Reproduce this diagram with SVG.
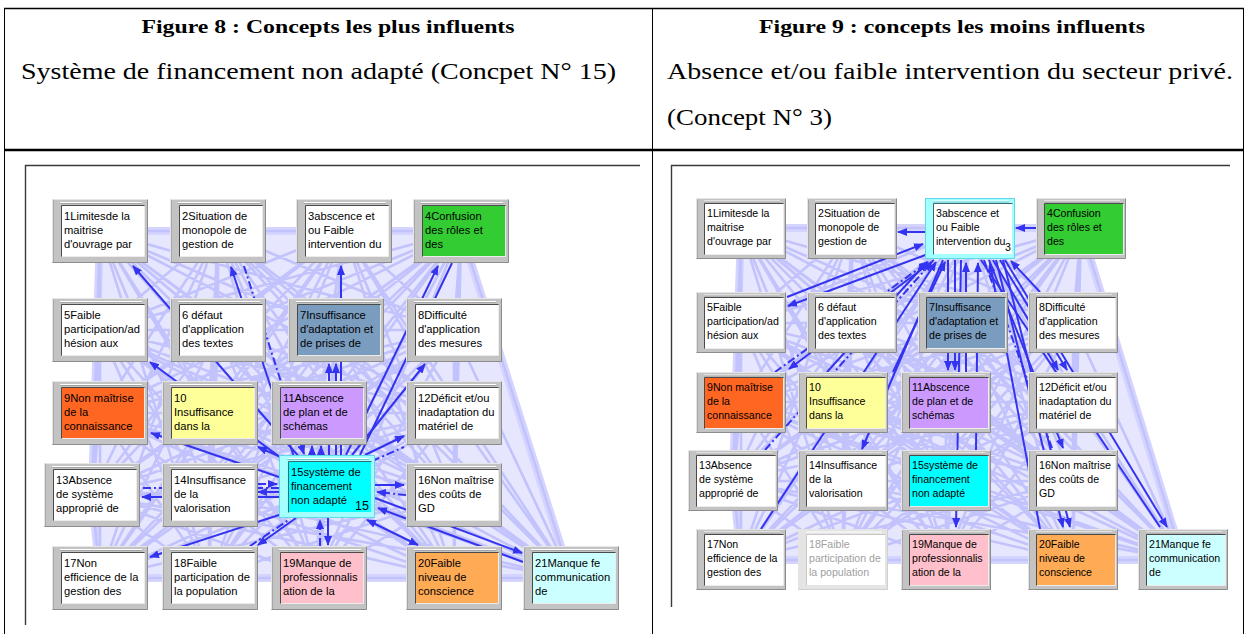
<svg xmlns="http://www.w3.org/2000/svg" xmlns:xlink="http://www.w3.org/1999/xlink" width="1248" height="634" viewBox="0 0 1248 634">
<style>
  .hd { font-family: "Liberation Serif", "Times New Roman", serif; font-weight: bold; font-size: 19.5px; fill: #000; }
  .bd { font-family: "Liberation Serif", "Times New Roman", serif; font-size: 23px; fill: #000; }
  .tl { font-family: "Liberation Sans", Arial, sans-serif; font-size: 11.2px; fill: #000; }
  .tr { font-family: "Liberation Sans", Arial, sans-serif; font-size: 10.6px; fill: #000; }
  .grid { stroke: #000; fill: none; }
  .fr { stroke: #3a3a3a; stroke-width: 1.4; fill: none; }
  .hull { fill: #e6e6ff; stroke: #d4d4ff; stroke-width: 8; stroke-linejoin: round; }
  .web { fill: none; stroke: #c2c2fc; stroke-width: 2.6; stroke-linejoin: round; }
  .a { fill: none; stroke: #3434f0; stroke-width: 2; marker-end: url(#ah); }
  .n { marker-end: none; }
  .dd { stroke-dasharray: 8 3 2 3; }
  .both { marker-start: url(#ah); }
</style>
<defs>
  <marker id="ah" viewBox="0 0 10 8" refX="9" refY="4" markerWidth="10" markerHeight="8" markerUnits="userSpaceOnUse" orient="auto-start-reverse">
    <path d="M0 0L10 4L0 8z" fill="#3434f0"/>
  </marker>
  <!-- bevelled grey frame, large boxes -->
  <g id="frL">
    <rect width="96" height="64" fill="#c3c3c3"/>
    <path d="M0.5 64V0.5H96" fill="none" stroke="#e6e6e6"/>
    <path d="M0.5 63.5H95.5V0.5" fill="none" stroke="#8c8c8c"/>
    <path d="M1.5 63V1.5" fill="none" stroke="#a6a6a6"/>
    <path d="M8 3.5H90" stroke="#ffffff"/>
    <path d="M8 4.5H90" stroke="#a4a4a4"/>
  </g>
  <g id="bdL">
    <path d="M9.5 57.5V6.5H92.5" fill="none" stroke="#4a4a4a"/>
    <path d="M10 57.5H92.5V7" fill="none" stroke="#ececec"/>
  </g>
  <!-- bevelled grey frame, small boxes -->
  <g id="frR">
    <rect width="90" height="61" fill="#c3c3c3"/>
    <path d="M0.5 61V0.5H90" fill="none" stroke="#e6e6e6"/>
    <path d="M0.5 60.5H89.5V0.5" fill="none" stroke="#8c8c8c"/>
    <path d="M1.5 60V1.5" fill="none" stroke="#a6a6a6"/>
    <path d="M8 3H84" stroke="#ffffff"/>
    <path d="M8 4H84" stroke="#a4a4a4"/>
  </g>
  <g id="bdR">
    <path d="M8.5 56.5V5.5H87.5" fill="none" stroke="#4a4a4a"/>
    <path d="M9 56.5H87.5V6" fill="none" stroke="#ececec"/>
  </g>
</defs>

<rect width="1248" height="634" fill="#fff"/>

<!-- table -->
<g id="table">
  <path class="grid" d="M4 8.5H1244" stroke-width="1.5"/>
  <path class="grid" d="M4 150H1244" stroke-width="2.5"/>
  <path class="grid" d="M4.5 8V634M652.5 8V634M1243.5 8V634" stroke-width="1"/>
  <text class="hd" x="328" y="33" text-anchor="middle" textLength="373" lengthAdjust="spacingAndGlyphs">Figure 8 : Concepts les plus influents</text>
  <text class="bd" x="21" y="79" textLength="595" lengthAdjust="spacingAndGlyphs">Système de financement non adapté (Concpet N° 15)</text>
  <text class="hd" x="952" y="33" text-anchor="middle" textLength="386" lengthAdjust="spacingAndGlyphs">Figure 9 : concepts les moins influents</text>
  <text class="bd" x="667" y="79" textLength="566" lengthAdjust="spacingAndGlyphs">Absence et/ou faible intervention du secteur privé.</text>
  <text class="bd" x="667" y="125" textLength="165" lengthAdjust="spacingAndGlyphs">(Concept N° 3)</text>
</g>

<!-- ===== Figure 8 ===== -->
<g id="fig8">
  <path class="fr" d="M25.5 625V165.5H640"/>
  <g id="fig8-connectors">
    <path class="hull" d="M100 231L461 231L571 578L100 578L92 495z"/>
    <path class="web" d="M571 578L100 231L218 231L454 578L344 231L318 578L461 231L209 578L100 330L100 578L218 330L454 495L335 330L327 487L454 330L209 495L100 413L92 495L209 413L454 413L318 413L571 578L218 231L344 231L100 231L461 231L454 578L100 330L318 578L218 330L209 578L335 330L100 578L454 330L454 495L100 413L327 487L209 413L209 495L318 413L92 495L454 413L571 578L344 231L461 231L218 231L100 330L100 231L218 330L454 578L335 330L318 578L454 330L209 578L100 413L100 578L209 413L454 495L318 413L327 487L454 413L209 495L92 495L571 578L461 231L100 330L344 231L218 330L218 231L335 330L100 231L454 330L454 578L100 413L318 578L209 413L209 578L318 413L100 578L454 413L454 495L92 495L327 487L209 495L571 578L100 330L218 330L461 231L335 330L344 231L454 330L218 231L100 413L100 231L209 413L454 578L318 413L318 578L454 413L209 578L92 495L100 578L209 495L454 495L327 487L571 578L218 330L335 330L100 330L454 330L461 231L100 413L344 231L209 413L218 231L318 413L100 231L454 413L454 578L92 495L318 578L209 495L209 578L327 487L100 578L454 495L571 578L335 330L454 330L218 330L100 413L100 330L209 413L461 231L318 413L344 231L454 413L218 231L92 495L100 231L209 495L454 578L327 487L318 578L454 495L209 578L100 578L571 578L454 330L100 413L335 330L209 413L218 330L318 413L100 330L454 413L461 231L92 495L344 231L209 495L218 231L327 487L100 231L454 495L454 578L100 578L318 578L209 578L571 578L100 413L209 413L454 330L318 413L335 330L454 413L218 330L92 495L100 330L209 495L461 231L327 487L344 231L454 495L218 231L100 578L100 231L209 578L454 578L318 578L571 578L209 413L318 413L100 413L454 413L454 330L92 495L335 330L209 495L218 330L327 487L100 330L454 495L461 231L100 578L344 231L209 578L218 231L318 578L100 231L454 578L571 578"/>
    <!-- links leaving / entering concept 15 -->
    <path class="a" d="M300 458L133 266"/>
    <path class="a" d="M294 457L231 267"/>
    <path class="a dd" d="M244 266L304 454"/>
    <path class="a" d="M341 455L341 266"/>
    <path class="a" d="M329 455L329 364"/>
    <path class="a" d="M336 455L336 364"/>
    <path class="a" d="M346 455L438 266"/>
    <path class="a n" d="M452 263L360 455"/>
    <path class="a" d="M352 455L425 364"/>
    <path class="a" d="M312 456L312 446"/>
    <path class="a" d="M321 456L321 446"/>
    <path class="a" d="M284 460L150 362"/>
    <path class="a" d="M279 477L151 433"/>
    <path class="a" d="M283 458L258 447"/>
    <path class="a" d="M365 455L404 436"/>
    <path class="a n dd" d="M372 461L404 447"/>
    <path class="a" d="M279 492L258 492"/>
    <path class="a dd" d="M258 484L277 484"/>
    <path class="a" d="M279 497L142 497"/>
    <path class="a n dd" d="M279 488L142 488"/>
    <path class="a" d="M375 485L404 485"/>
    <path class="a dd" d="M406 495L377 492"/>
    <path class="a" d="M279 515L150 557"/>
    <path class="a" d="M296 518L258 545"/>
    <path class="a n dd" d="M250 546L290 519"/>
    <path class="a" d="M328 518L328 545"/>
    <path class="a dd" d="M320 546L320 520"/>
    <path class="a both" d="M367 520L418 545"/>
    <path class="a" d="M375 498L522 553"/>
    <path class="a" d="M523 562L378 508"/>
  </g>

  <g id="fig8-n1" transform="translate(52,199)"><use href="#frL"/><rect x="10" y="7" width="82" height="50" fill="#fff"/><use href="#bdL"/>
    <text class="tl"><tspan x="12" y="20.5">1Limitesde la</tspan><tspan x="12" y="34.8">maitrise</tspan><tspan x="12" y="49.1">d'ouvrage par</tspan></text></g>
  <g id="fig8-n2" transform="translate(170,199)"><use href="#frL"/><rect x="10" y="7" width="82" height="50" fill="#fff"/><use href="#bdL"/>
    <text class="tl"><tspan x="12" y="20.5">2Situation de</tspan><tspan x="12" y="34.8">monopole de</tspan><tspan x="12" y="49.1">gestion de</tspan></text></g>
  <g id="fig8-n3" transform="translate(296,199)"><use href="#frL"/><rect x="10" y="7" width="82" height="50" fill="#fff"/><use href="#bdL"/>
    <text class="tl"><tspan x="12" y="20.5">3abscence et</tspan><tspan x="12" y="34.8">ou Faible</tspan><tspan x="12" y="49.1">intervention du</tspan></text></g>
  <g id="fig8-n4" transform="translate(413,199)"><use href="#frL"/><rect x="10" y="7" width="82" height="50" fill="#33cc33"/><use href="#bdL"/>
    <text class="tl"><tspan x="12" y="20.5">4Confusion</tspan><tspan x="12" y="34.8">des rôles et</tspan><tspan x="12" y="49.1">des</tspan></text></g>

  <g id="fig8-n5" transform="translate(52,298)"><use href="#frL"/><rect x="10" y="7" width="82" height="50" fill="#fff"/><use href="#bdL"/>
    <text class="tl"><tspan x="12" y="20.5">5Faible</tspan><tspan x="12" y="34.8">participation/ad</tspan><tspan x="12" y="49.1">hésion aux</tspan></text></g>
  <g id="fig8-n6" transform="translate(170,298)"><use href="#frL"/><rect x="10" y="7" width="82" height="50" fill="#fff"/><use href="#bdL"/>
    <text class="tl"><tspan x="12" y="20.5">6 défaut</tspan><tspan x="12" y="34.8">d'application</tspan><tspan x="12" y="49.1">des textes</tspan></text></g>
  <g id="fig8-n7" transform="translate(288,298)"><use href="#frL"/><rect x="10" y="7" width="82" height="50" fill="#7a9cbf"/><use href="#bdL"/>
    <text class="tl"><tspan x="12" y="20.5">7Insuffisance</tspan><tspan x="12" y="34.8">d'adaptation et</tspan><tspan x="12" y="49.1">de prises de</tspan></text></g>
  <g id="fig8-n8" transform="translate(406,298)"><use href="#frL"/><rect x="10" y="7" width="82" height="50" fill="#fff"/><use href="#bdL"/>
    <text class="tl"><tspan x="12" y="20.5">8Difficulté</tspan><tspan x="12" y="34.8">d'application</tspan><tspan x="12" y="49.1">des mesures</tspan></text></g>

  <g id="fig8-n9" transform="translate(52,381)"><use href="#frL"/><rect x="10" y="7" width="82" height="50" fill="#ff6622"/><use href="#bdL"/>
    <text class="tl"><tspan x="12" y="20.5">9Non maîtrise</tspan><tspan x="12" y="34.8">de la</tspan><tspan x="12" y="49.1">connaissance</tspan></text></g>
  <g id="fig8-n10" transform="translate(162,381)"><use href="#frL"/><rect x="10" y="7" width="82" height="50" fill="#ffff99"/><use href="#bdL"/>
    <text class="tl"><tspan x="12" y="20.5">10</tspan><tspan x="12" y="34.8">Insuffisance</tspan><tspan x="12" y="49.1">dans la</tspan></text></g>
  <g id="fig8-n11" transform="translate(271,381)"><use href="#frL"/><rect x="10" y="7" width="82" height="50" fill="#cc99ff"/><use href="#bdL"/>
    <text class="tl"><tspan x="12" y="20.5">11Abscence</tspan><tspan x="12" y="34.8">de plan et de</tspan><tspan x="12" y="49.1">schémas</tspan></text></g>
  <g id="fig8-n12" transform="translate(406,381)"><use href="#frL"/><rect x="10" y="7" width="82" height="50" fill="#fff"/><use href="#bdL"/>
    <text class="tl"><tspan x="12" y="20.5">12Déficit et/ou</tspan><tspan x="12" y="34.8">inadaptation du</tspan><tspan x="12" y="49.1">matériel de</tspan></text></g>

  <g id="fig8-n13" transform="translate(44,463)"><use href="#frL"/><rect x="10" y="7" width="82" height="50" fill="#fff"/><use href="#bdL"/>
    <text class="tl"><tspan x="12" y="20.5">13Absence</tspan><tspan x="12" y="34.8">de système</tspan><tspan x="12" y="49.1">approprié de</tspan></text></g>
  <g id="fig8-n14" transform="translate(162,463)"><use href="#frL"/><rect x="10" y="7" width="82" height="50" fill="#fff"/><use href="#bdL"/>
    <text class="tl"><tspan x="12" y="20.5">14Insuffisance</tspan><tspan x="12" y="34.8">de la</tspan><tspan x="12" y="49.1">valorisation</tspan></text></g>
  <g id="fig8-n15" transform="translate(279,455)">
    <rect x="0.5" y="0.5" width="95" height="62" fill="#a4ffff" stroke="#5fd8e8"/>
    <path d="M8 3.5H90" stroke="#ffffff"/><path d="M8 4.5H90" stroke="#70c8d0"/>
    <rect x="10" y="7" width="82" height="50" fill="#00ffff"/>
    <path d="M9.5 57.5V6.5H92.5" fill="none" stroke="#3a6a70"/>
    <text class="tl"><tspan x="12" y="20.7">15système de</tspan><tspan x="12" y="35">financement</tspan><tspan x="12" y="49.3">non adapté</tspan></text>
    <text class="tl" x="90" y="55" text-anchor="end" style="font-size:12.5px">15</text></g>
  <g id="fig8-n16" transform="translate(406,463)"><use href="#frL"/><rect x="10" y="7" width="82" height="50" fill="#fff"/><use href="#bdL"/>
    <text class="tl"><tspan x="12" y="20.5">16Non maîtrise</tspan><tspan x="12" y="34.8">des coûts de</tspan><tspan x="12" y="49.1">GD</tspan></text></g>

  <g id="fig8-n17" transform="translate(52,546)"><use href="#frL"/><rect x="10" y="7" width="82" height="50" fill="#fff"/><use href="#bdL"/>
    <text class="tl"><tspan x="12" y="20.5">17Non</tspan><tspan x="12" y="34.8">efficience de la</tspan><tspan x="12" y="49.1">gestion des</tspan></text></g>
  <g id="fig8-n18" transform="translate(162,546)"><use href="#frL"/><rect x="10" y="7" width="82" height="50" fill="#fff"/><use href="#bdL"/>
    <text class="tl"><tspan x="12" y="20.5">18Faible</tspan><tspan x="12" y="34.8">participation de</tspan><tspan x="12" y="49.1">la population</tspan></text></g>
  <g id="fig8-n19" transform="translate(271,546)"><use href="#frL"/><rect x="10" y="7" width="82" height="50" fill="#ffc0cb"/><use href="#bdL"/>
    <text class="tl"><tspan x="12" y="20.5">19Manque de</tspan><tspan x="12" y="34.8">professionnalis</tspan><tspan x="12" y="49.1">ation de la</tspan></text></g>
  <g id="fig8-n20" transform="translate(406,546)"><use href="#frL"/><rect x="10" y="7" width="82" height="50" fill="#ffaa55"/><use href="#bdL"/>
    <text class="tl"><tspan x="12" y="20.5">20Faible</tspan><tspan x="12" y="34.8">niveau de</tspan><tspan x="12" y="49.1">conscience</tspan></text></g>
  <g id="fig8-n21" transform="translate(523,546)"><use href="#frL"/><rect x="10" y="7" width="82" height="50" fill="#ccffff"/><use href="#bdL"/>
    <text class="tl"><tspan x="12" y="20.5">21Manque fe</tspan><tspan x="12" y="34.8">communication</tspan><tspan x="12" y="49.1">de</tspan></text></g>
</g>

<!-- ===== Figure 9 ===== -->
<g id="fig9">
  <path class="fr" d="M671.5 607V165.5H1230"/>
  <g id="fig9-connectors">
    <path class="hull" d="M741 228L1081 228L1183 560L741 560L733 481z"/>
    <path class="web" d="M1183 560L741 228L852 228L1073 560L970 228L946 560L1081 228L843 560L741 323L741 560L852 323L1073 481L962 323L946 481L1073 323L843 481L741 402L733 481L843 402L1073 402L946 402L1183 560L852 228L970 228L741 228L1081 228L1073 560L741 323L946 560L852 323L843 560L962 323L741 560L1073 323L1073 481L741 402L946 481L843 402L843 481L946 402L733 481L1073 402L1183 560L970 228L1081 228L852 228L741 323L741 228L852 323L1073 560L962 323L946 560L1073 323L843 560L741 402L741 560L843 402L1073 481L946 402L946 481L1073 402L843 481L733 481L1183 560L1081 228L741 323L970 228L852 323L852 228L962 323L741 228L1073 323L1073 560L741 402L946 560L843 402L843 560L946 402L741 560L1073 402L1073 481L733 481L946 481L843 481L1183 560L741 323L852 323L1081 228L962 323L970 228L1073 323L852 228L741 402L741 228L843 402L1073 560L946 402L946 560L1073 402L843 560L733 481L741 560L843 481L1073 481L946 481L1183 560L852 323L962 323L741 323L1073 323L1081 228L741 402L970 228L843 402L852 228L946 402L741 228L1073 402L1073 560L733 481L946 560L843 481L843 560L946 481L741 560L1073 481L1183 560L962 323L1073 323L852 323L741 402L741 323L843 402L1081 228L946 402L970 228L1073 402L852 228L733 481L741 228L843 481L1073 560L946 481L946 560L1073 481L843 560L741 560L1183 560L1073 323L741 402L962 323L843 402L852 323L946 402L741 323L1073 402L1081 228L733 481L970 228L843 481L852 228L946 481L741 228L1073 481L1073 560L741 560L946 560L843 560L1183 560L741 402L843 402L1073 323L946 402L962 323L1073 402L852 323L733 481L741 323L843 481L1081 228L946 481L970 228L1073 481L852 228L741 560L741 228L843 560L1073 560L946 560L1183 560L843 402L946 402L741 402L1073 402L1073 323L733 481L962 323L843 481L852 323L946 481L741 323L1073 481L1081 228L741 560L970 228L843 560L852 228L946 560L741 228L1073 560L1183 560"/>
    <!-- links leaving / entering concept 3 -->
    <path class="a" d="M925 232L898 232"/>
    <path class="a" d="M1036 228L1016 228"/>
    <path class="a" d="M928 254L788 306"/>
    <path class="a" d="M787 297L923 244"/>
    <path class="a" d="M934 260L789 369"/>
    <path class="a dd" d="M775 372L928 262"/>
    <path class="a" d="M943 260L862 449"/>
    <path class="a" d="M827 372L927 262"/>
    <path class="a" d="M893 372L945 262"/>
    <path class="a" d="M761 529L936 262"/>
    <path class="a dd" d="M765 450L932 262"/>
    <path class="a" d="M948 260L948 370"/>
    <path class="a" d="M955 260L955 370"/>
    <path class="a" d="M961 260L956 527"/>
    <path class="a" d="M966 372L966 263"/>
    <path class="a" d="M976 450L978 263"/>
    <path class="a" d="M993 260L1058 370"/>
    <path class="a" d="M1000 260L1067 370"/>
    <path class="a" d="M989 260L1063 448"/>
    <path class="a n dd" d="M984 260L1052 448"/>
    <path class="a" d="M996 260L1063 527"/>
    <path class="a" d="M1003 260L1070 527"/>
    <path class="a" d="M1005 260L1167 527"/>
    <path class="a n" d="M981 260L1160 527"/>
    <path class="a" d="M1040 292L1011 261"/>
    <path class="a" d="M1040 529L990 263"/>
  </g>

  <g id="fig9-n1" transform="translate(696,198)"><use href="#frR"/><rect x="9" y="6" width="78" height="50" fill="#fff"/><use href="#bdR"/>
    <text class="tr"><tspan x="11" y="19.3">1Limitesde la</tspan><tspan x="11" y="33.1">maitrise</tspan><tspan x="11" y="46.9">d'ouvrage par</tspan></text></g>
  <g id="fig9-n2" transform="translate(807,198)"><use href="#frR"/><rect x="9" y="6" width="78" height="50" fill="#fff"/><use href="#bdR"/>
    <text class="tr"><tspan x="11" y="19.3">2Situation de</tspan><tspan x="11" y="33.1">monopole de</tspan><tspan x="11" y="46.9">gestion de</tspan></text></g>
  <g id="fig9-n3" transform="translate(925,198)">
    <rect x="0.5" y="0.5" width="89" height="60" fill="#a4ffff" stroke="#5fd8e8"/>
    <path d="M8 3H84" stroke="#ffffff"/><path d="M8 4H84" stroke="#70c8d0"/>
    <rect x="9" y="6" width="78" height="50" fill="#fff"/>
    <path d="M8.5 56.5V5.5H87.5" fill="none" stroke="#3a6a70"/>
    <text class="tr"><tspan x="11" y="19.3">3abscence et</tspan><tspan x="11" y="33.1">ou Faible</tspan><tspan x="11" y="46.9">intervention du</tspan></text>
    <text class="tr" x="86" y="53" text-anchor="end">3</text></g>
  <g id="fig9-n4" transform="translate(1036,198)"><use href="#frR"/><rect x="9" y="6" width="78" height="50" fill="#33cc33"/><use href="#bdR"/>
    <text class="tr"><tspan x="11" y="19.3">4Confusion</tspan><tspan x="11" y="33.1">des rôles et</tspan><tspan x="11" y="46.9">des</tspan></text></g>

  <g id="fig9-n5" transform="translate(696,292)"><use href="#frR"/><rect x="9" y="6" width="78" height="50" fill="#fff"/><use href="#bdR"/>
    <text class="tr"><tspan x="11" y="19.3">5Faible</tspan><tspan x="11" y="33.1">participation/ad</tspan><tspan x="11" y="46.9">hésion aux</tspan></text></g>
  <g id="fig9-n6" transform="translate(807,292)"><use href="#frR"/><rect x="9" y="6" width="78" height="50" fill="#fff"/><use href="#bdR"/>
    <text class="tr"><tspan x="11" y="19.3">6 défaut</tspan><tspan x="11" y="33.1">d'application</tspan><tspan x="11" y="46.9">des textes</tspan></text></g>
  <g id="fig9-n7" transform="translate(918,292)"><use href="#frR"/><rect x="9" y="6" width="78" height="50" fill="#7a9cbf"/><use href="#bdR"/>
    <text class="tr"><tspan x="11" y="19.3">7Insuffisance</tspan><tspan x="11" y="33.1">d'adaptation et</tspan><tspan x="11" y="46.9">de prises de</tspan></text></g>
  <g id="fig9-n8" transform="translate(1028,292)"><use href="#frR"/><rect x="9" y="6" width="78" height="50" fill="#fff"/><use href="#bdR"/>
    <text class="tr"><tspan x="11" y="19.3">8Difficulté</tspan><tspan x="11" y="33.1">d'application</tspan><tspan x="11" y="46.9">des mesures</tspan></text></g>

  <g id="fig9-n9" transform="translate(696,372)"><use href="#frR"/><rect x="9" y="6" width="78" height="50" fill="#ff6622"/><use href="#bdR"/>
    <text class="tr"><tspan x="11" y="19.3">9Non maîtrise</tspan><tspan x="11" y="33.1">de la</tspan><tspan x="11" y="46.9">connaissance</tspan></text></g>
  <g id="fig9-n10" transform="translate(798,372)"><use href="#frR"/><rect x="9" y="6" width="78" height="50" fill="#ffff99"/><use href="#bdR"/>
    <text class="tr"><tspan x="11" y="19.3">10</tspan><tspan x="11" y="33.1">Insuffisance</tspan><tspan x="11" y="46.9">dans la</tspan></text></g>
  <g id="fig9-n11" transform="translate(901,372)"><use href="#frR"/><rect x="9" y="6" width="78" height="50" fill="#cc99ff"/><use href="#bdR"/>
    <text class="tr"><tspan x="11" y="19.3">11Abscence</tspan><tspan x="11" y="33.1">de plan et de</tspan><tspan x="11" y="46.9">schémas</tspan></text></g>
  <g id="fig9-n12" transform="translate(1028,372)"><use href="#frR"/><rect x="9" y="6" width="78" height="50" fill="#fff"/><use href="#bdR"/>
    <text class="tr"><tspan x="11" y="19.3">12Déficit et/ou</tspan><tspan x="11" y="33.1">inadaptation du</tspan><tspan x="11" y="46.9">matériel de</tspan></text></g>

  <g id="fig9-n13" transform="translate(688,450)"><use href="#frR"/><rect x="9" y="6" width="78" height="50" fill="#fff"/><use href="#bdR"/>
    <text class="tr"><tspan x="11" y="19.3">13Absence</tspan><tspan x="11" y="33.1">de système</tspan><tspan x="11" y="46.9">approprié de</tspan></text></g>
  <g id="fig9-n14" transform="translate(798,450)"><use href="#frR"/><rect x="9" y="6" width="78" height="50" fill="#fff"/><use href="#bdR"/>
    <text class="tr"><tspan x="11" y="19.3">14Insuffisance</tspan><tspan x="11" y="33.1">de la</tspan><tspan x="11" y="46.9">valorisation</tspan></text></g>
  <g id="fig9-n15" transform="translate(901,450)"><use href="#frR"/><rect x="9" y="6" width="78" height="50" fill="#00ffff"/><use href="#bdR"/>
    <text class="tr"><tspan x="11" y="19.3">15système de</tspan><tspan x="11" y="33.1">financement</tspan><tspan x="11" y="46.9">non adapté</tspan></text></g>
  <g id="fig9-n16" transform="translate(1028,450)"><use href="#frR"/><rect x="9" y="6" width="78" height="50" fill="#fff"/><use href="#bdR"/>
    <text class="tr"><tspan x="11" y="19.3">16Non maîtrise</tspan><tspan x="11" y="33.1">des coûts de</tspan><tspan x="11" y="46.9">GD</tspan></text></g>

  <g id="fig9-n17" transform="translate(696,529)"><use href="#frR"/><rect x="9" y="6" width="78" height="50" fill="#fff"/><use href="#bdR"/>
    <text class="tr"><tspan x="11" y="19.3">17Non</tspan><tspan x="11" y="33.1">efficience de la</tspan><tspan x="11" y="46.9">gestion des</tspan></text></g>
  <g id="fig9-n18" transform="translate(798,529)">
    <rect width="90" height="61" fill="#e4e4e4"/>
    <path d="M0.5 60.5H89.5V0.5" fill="none" stroke="#cfcfcf"/>
    <path d="M8 3H84" stroke="#ffffff"/>
    <rect x="9" y="6" width="78" height="50" fill="#fff"/>
    <path d="M8.5 56.5V5.5H87.5" fill="none" stroke="#c8c8c8"/>
    <text class="tr" style="fill:#a0a0a0"><tspan x="11" y="19.3">18Faible</tspan><tspan x="11" y="33.1">participation de</tspan><tspan x="11" y="46.9">la population</tspan></text></g>
  <g id="fig9-n19" transform="translate(901,529)"><use href="#frR"/><rect x="9" y="6" width="78" height="50" fill="#ffc0cb"/><use href="#bdR"/>
    <text class="tr"><tspan x="11" y="19.3">19Manque de</tspan><tspan x="11" y="33.1">professionnalis</tspan><tspan x="11" y="46.9">ation de la</tspan></text></g>
  <g id="fig9-n20" transform="translate(1028,529)"><use href="#frR"/><rect x="9" y="6" width="78" height="50" fill="#ffaa55"/><use href="#bdR"/>
    <text class="tr"><tspan x="11" y="19.3">20Faible</tspan><tspan x="11" y="33.1">niveau de</tspan><tspan x="11" y="46.9">conscience</tspan></text></g>
  <g id="fig9-n21" transform="translate(1138,529)"><use href="#frR"/><rect x="9" y="6" width="78" height="50" fill="#ccffff"/><use href="#bdR"/>
    <text class="tr"><tspan x="11" y="19.3">21Manque fe</tspan><tspan x="11" y="33.1">communication</tspan><tspan x="11" y="46.9">de</tspan></text></g>
</g>
</svg>
